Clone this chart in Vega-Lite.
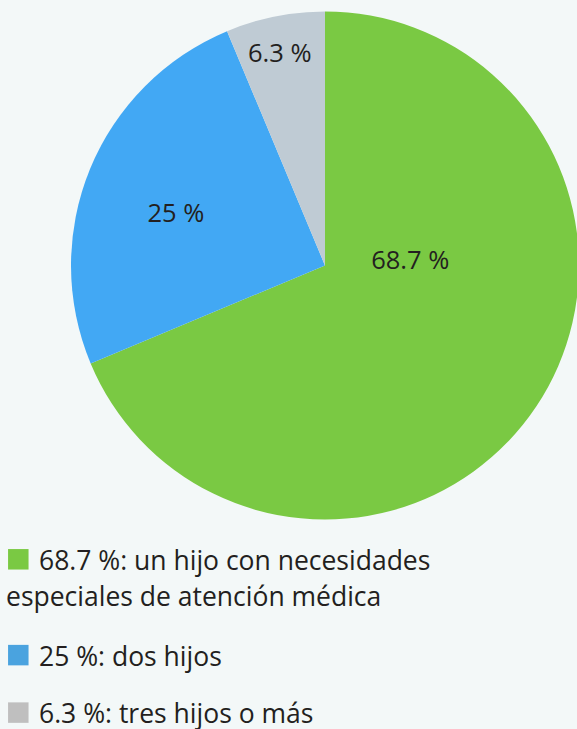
{
  "$schema": "https://vega.github.io/schema/vega-lite/v6.json",
  "width": 577,
  "height": 729,
  "autosize": {"type": "none"},
  "padding": 0,
  "background": "#f3f8f8",
  "config": {"view": {"stroke": null}, "font": "Open Sans"},
  "data": {
    "values": [
      {"ord": 1, "value": 68.7, "lbl": "68.7 %", "cat": "68.7 %: un hijo con necesidades especiales de atención médica", "head": "68.7 %: un hijo con necesidades", "cont": "especiales de atención médica"},
      {"ord": 2, "value": 25, "lbl": "25 %", "cat": "25 %: dos hijos", "head": "25 %: dos hijos", "cont": ""},
      {"ord": 3, "value": 6.3, "lbl": "6.3 %", "cat": "6.3 %: tres hijos o más", "head": "6.3 %: tres hijos o más", "cont": ""}
    ]
  },
  "layer": [
    {
      "mark": {"type": "arc", "x": 325, "y": 265.5, "outerRadius": 254},
      "encoding": {
        "theta": {"field": "value", "type": "quantitative", "stack": true},
        "order": {"field": "ord", "type": "quantitative"},
        "color": {
          "field": "cat", "type": "nominal", "legend": null,
          "scale": {
            "domain": ["68.7 %: un hijo con necesidades especiales de atención médica", "25 %: dos hijos", "6.3 %: tres hijos o más"],
            "range": ["#7ac943", "#42a8f4", "#bfcbd4"]
          }
        }
      }
    },
    {
      "mark": {"type": "text", "x": 325, "y": 265.5, "radius": 100, "dx": 2, "dy": -60, "fontSize": 25.5, "color": "#231f20", "align": "center", "baseline": "middle"},
      "encoding": {
        "theta": {"field": "value", "type": "quantitative", "stack": true},
        "order": {"field": "ord", "type": "quantitative"},
        "text": {"condition": {"test": "datum.ord == 1", "field": "lbl"}, "value": ""}
      }
    },
    {
      "mark": {"type": "text", "x": 325, "y": 265.5, "radius": 158, "dx": -3, "dy": 9, "fontSize": 25.5, "color": "#231f20", "align": "center", "baseline": "middle"},
      "encoding": {
        "theta": {"field": "value", "type": "quantitative", "stack": true},
        "order": {"field": "ord", "type": "quantitative"},
        "text": {"condition": {"test": "datum.ord == 2", "field": "lbl"}, "value": ""}
      }
    },
    {
      "mark": {"type": "text", "x": 325, "y": 265.5, "radius": 215, "dx": -3, "dy": -1, "fontSize": 25.5, "color": "#231f20", "align": "center", "baseline": "middle"},
      "encoding": {
        "theta": {"field": "value", "type": "quantitative", "stack": true},
        "order": {"field": "ord", "type": "quantitative"},
        "text": {"condition": {"test": "datum.ord == 3", "field": "lbl"}, "value": ""}
      }
    },
    {
      "mark": {"type": "point", "shape": "square", "filled": true, "opacity": 1, "size": 420, "x": 18.3, "yOffset": -10.7},
      "encoding": {
        "y": {
          "field": "cat", "type": "nominal", "axis": null,
          "scale": {"type": "point", "padding": 0, "range": [570, 723.3],
            "domain": ["68.7 %: un hijo con necesidades especiales de atención médica", "s1", "s2", "s3", "s4", "25 %: dos hijos", "s5", "s6", "6.3 %: tres hijos o más"]}
        },
        "color": {
          "field": "cat", "type": "nominal", "legend": null,
          "scale": {
            "domain": ["68.7 %: un hijo con necesidades especiales de atención médica", "25 %: dos hijos", "6.3 %: tres hijos o más"],
            "range": ["#7ac943", "#4aa3df", "#bfbfbf"]
          }
        }
      }
    },
    {
      "mark": {"type": "text", "x": 39, "fontSize": 26.5, "color": "#231f20", "align": "left", "baseline": "alphabetic"},
      "encoding": {
        "y": {"field": "cat", "type": "nominal", "axis": null},
        "text": {"field": "head"}
      }
    },
    {
      "mark": {"type": "text", "x": 6, "dy": 36, "fontSize": 26.5, "color": "#231f20", "align": "left", "baseline": "alphabetic"},
      "encoding": {
        "y": {"field": "cat", "type": "nominal", "axis": null},
        "text": {"field": "cont"}
      }
    }
  ],
  "resolve": {"scale": {"color": "independent"}}
}
